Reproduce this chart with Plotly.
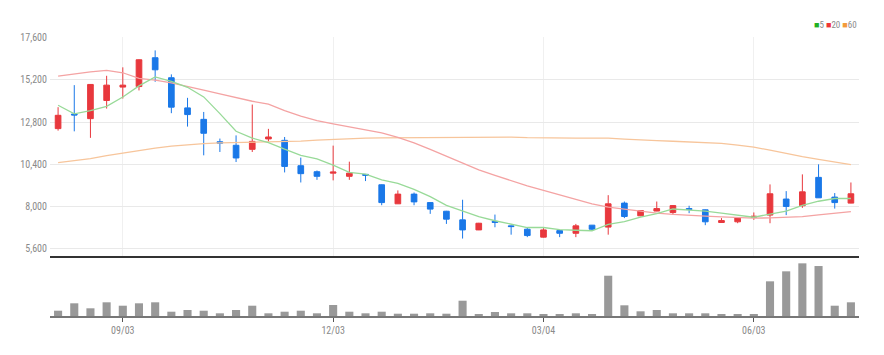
import pandas as pd
import plotly.graph_objects as go

dates = pd.date_range("2018-08-06", periods=50, freq="W-MON")

opens = [12425, 13250, 12990, 14020, 14780, 14810, 16445, 15310, 13600, 12950,
         11680, 11480, 11250, 11840, 11760, 10320, 9980, 9900, 9720, 9830,
         9240, 8160, 8710, 8230, 7740, 7250, 6680, 7160, 6910, 6720,
         6270, 6640, 6490, 6950, 6840, 8200, 7480, 7750, 7670, 7890,
         7820, 7100, 7140, 7400, 7520, 8430, 8050, 9660, 8540, 8200]
highs = [13640, 14890, 14950, 15420, 15900, 16350, 16860, 15500, 14170, 13370,
         11860, 12040, 13790, 12410, 11950, 10780, 10050, 11460, 10550, 9840,
         9260, 8920, 8800, 8250, 7760, 8390, 7080, 7550, 6920, 6840,
         6780, 6660, 7020, 6960, 8650, 8290, 7800, 8290, 8080, 8050,
         7840, 7350, 7370, 7670, 9260, 8880, 9830, 10400, 8770, 9370]
lows = [12310, 12270, 11900, 13560, 14130, 14590, 15080, 13300, 12540, 10910,
        11100, 10530, 11100, 11690, 9940, 9370, 9520, 9490, 9520, 9450,
        8080, 8150, 8080, 7590, 7020, 6190, 6670, 6830, 6410, 6270,
        6250, 6270, 6270, 6640, 6410, 7350, 7460, 7740, 7550, 7630,
        6950, 7090, 7060, 7250, 7060, 7520, 7930, 8490, 7890, 8190]
closes = [13180, 13200, 14930, 14890, 14890, 16330, 15760, 13640, 13220, 12160,
          11600, 10760, 11700, 11950, 10280, 9870, 9720, 9960, 9900, 9780,
          8230, 8710, 8270, 7860, 7290, 6680, 7060, 7110, 6870, 6360,
          6680, 6490, 6910, 6720, 8160, 7440, 7780, 7890, 8060, 7840,
          7140, 7210, 7350, 7450, 8730, 8010, 8840, 8500, 8230, 8730]

ma5 = [13750, 13260, 13450, 13690, 14218, 14848, 15360, 15102, 14768, 14222,
       13276, 12276, 11888, 11634, 11258, 10912, 10704, 10356, 9946, 9846,
       9518, 9316, 8978, 8570, 8072, 7762, 7432, 7200, 7002, 6816,
       6816, 6702, 6662, 6632, 6992, 7144, 7402, 7598, 7866, 7802,
       7742, 7628, 7520, 7398, 7576, 7750, 8076, 8306, 8462, 8462]
ma20 = [15400, 15524, 15638, 15723, 15592, 15268, 15172, 15024, 14797, 14603,
        14399, 14171, 13977, 13818, 13448, 13135, 12880, 12698, 12522, 12368,
        12181, 11930, 11620, 11250, 10860, 10450, 10080, 9770, 9460, 9180,
        8916, 8672, 8427, 8160, 7972, 7858, 7722, 7631, 7563, 7494,
        7460, 7420, 7380, 7346, 7363, 7392, 7437, 7534, 7619, 7722]
ma60 = [10491, 10605, 10719, 10889, 11043, 11185, 11316, 11430, 11515, 11572,
        11612, 11629, 11646, 11657, 11669, 11714, 11771, 11816, 11856, 11885,
        11902, 11913, 11924, 11930, 11930, 11936, 11941, 11947, 11947, 11913,
        11890, 11885, 11885, 11890, 11890, 11828, 11771, 11742, 11708, 11680,
        11646, 11583, 11487, 11373, 11202, 11003, 10833, 10679, 10531, 10378]

volumes = [159000, 381000, 231000, 411000, 309000, 381000, 411000, 129000, 180000, 159000,
           81000, 180000, 309000, 81000, 129000, 159000, 81000, 330000, 129000, 81000,
           129000, 69000, 69000, 81000, 69000, 459000, 30000, 120000, 81000, 81000,
           30000, 30000, 81000, 30000, 1209000, 321000, 141000, 180000, 81000, 81000,
           81000, 30000, 30000, 30000, 1041000, 1341000, 1581000, 1500000, 309000, 411000]

tick_dates = ["2018-09-03", "2018-12-03", "2019-03-04", "2019-06-03"]
y_ticks = [5600, 8000, 10400, 12800, 15200, 17600]

RED = "#e8383d"
BLUE = "#1a78e8"
FONT = "Liberation Sans Narrow, Roboto Condensed, Lato, sans-serif"

fig = go.Figure()
fig.add_trace(go.Candlestick(
    x=dates, open=opens, high=highs, low=lows, close=closes,
    increasing=dict(line=dict(color=RED, width=1), fillcolor=RED),
    decreasing=dict(line=dict(color=BLUE, width=1), fillcolor=BLUE),
    whiskerwidth=0, xaxis="x", yaxis="y", showlegend=False,
))
fig.add_trace(go.Scatter(x=dates, y=ma60, mode="lines",
                         line=dict(color="#f7c59b", width=1.3), xaxis="x", yaxis="y", showlegend=False))
fig.add_trace(go.Scatter(x=dates, y=ma20, mode="lines",
                         line=dict(color="#f4a3a3", width=1.3), xaxis="x", yaxis="y", showlegend=False))
fig.add_trace(go.Scatter(x=dates, y=ma5, mode="lines",
                         line=dict(color="#98da98", width=1.3), xaxis="x", yaxis="y", showlegend=False))
fig.add_trace(go.Bar(x=dates, y=volumes, marker=dict(color="#999999", line=dict(width=0)),
                     width=0.5 * 7 * 24 * 3600 * 1000, xaxis="x2", yaxis="y2", showlegend=False))

xr = [dates[0] - pd.Timedelta(days=3.5), dates[-1] + pd.Timedelta(days=3.5)]

fig.update_layout(
    width=884, height=355,
    margin=dict(l=50, r=25, t=37, b=39),
    paper_bgcolor="white", plot_bgcolor="white",
    boxgap=0.5,
    font=dict(family=FONT, size=10, color="#8a8a8a"),
    xaxis=dict(domain=[0, 1], anchor="y", range=xr, type="date",
               tickvals=tick_dates, showticklabels=False,
               showgrid=True, gridcolor="#f0f0f0", gridwidth=1,
               showline=True, linecolor="#333333", linewidth=2,
               rangeslider=dict(visible=False), zeroline=False, fixedrange=True),
    yaxis=dict(domain=[0.215, 1], range=[5200, 17620], tickvals=y_ticks,
               tickformat=",d", showgrid=True, gridcolor="#e9e9e9", gridwidth=1,
               zeroline=False, ticks="", showline=False, ticklabelstandoff=2),
    xaxis2=dict(domain=[0, 1], anchor="y2", matches="x", type="date",
                tickvals=tick_dates, tickformat="%m/%d",
                showgrid=False, showline=True, linecolor="#777777", linewidth=2,
                ticks="outside", ticklen=4, tickcolor="#555555", tickwidth=1,
                zeroline=False),
    yaxis2=dict(domain=[0, 0.1935], range=[0, max(volumes) * 1.025],
                showticklabels=False, showgrid=False, zeroline=False, showline=False),
    annotations=[dict(
        xref="paper", yref="paper", x=1, y=1.043, xanchor="right", yanchor="middle",
        showarrow=False, font=dict(size=9, color="#8a8a8a", family=FONT),
        text=('<span style="color:#22b022">■</span>5 '
              '<span style="color:#ee3535">■</span>20 '
              '<span style="color:#f39a3a">■</span>60'),
    )],
)

fig.write_html("out.html")
